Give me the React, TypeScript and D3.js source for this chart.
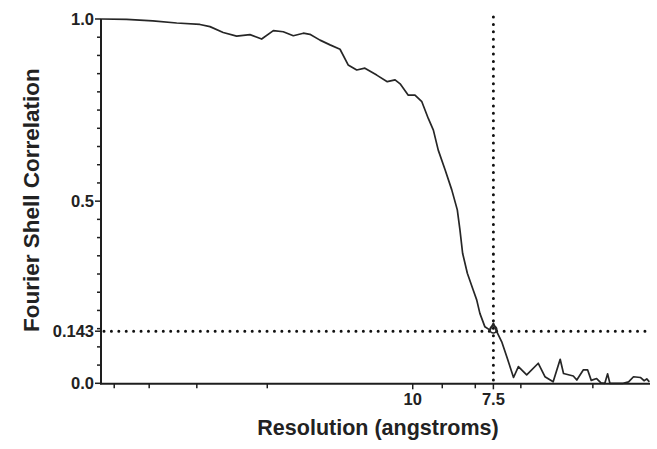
import { useEffect, useRef } from 'react';
import * as d3 from 'd3';

// FSC curve, resolution in angstroms vs correlation
const resolution = [
  30.41, 27.75, 25.27, 23.21, 21.36, 20.61, 19.66, 18.74, 17.87, 17.14,
  16.44, 15.87, 15.31, 14.77, 14.43, 13.92, 13.43, 12.96, 12.59, 12.21,
  11.86, 11.37, 10.95, 10.65, 10.46, 10.16, 9.92, 9.68, 9.46, 9.29,
  9.13, 8.91, 8.7, 8.53, 8.45, 8.37, 8.23, 8.06, 7.96, 7.87,
  7.73, 7.59, 7.5, 7.41, 7.28, 7.15, 6.98, 6.86, 6.66, 6.39,
  6.24, 6.06, 5.91, 5.84, 5.64, 5.57, 5.44, 5.36, 5.29, 5.19,
  5.11, 5.04, 4.99, 4.95, 4.72, 4.63, 4.55, 4.44, 4.38, 4.34, 4.3,
];
const fsc = [
  1.0, 0.999, 0.995, 0.989, 0.985, 0.979, 0.963, 0.953, 0.957, 0.945,
  0.968, 0.965, 0.954, 0.961, 0.958, 0.942, 0.929, 0.917, 0.874, 0.86,
  0.865, 0.846, 0.828, 0.833, 0.822, 0.791, 0.791, 0.773, 0.727, 0.695,
  0.64, 0.586, 0.531, 0.476, 0.421, 0.357, 0.302, 0.256, 0.229, 0.192,
  0.155, 0.146, 0.165, 0.142, 0.114, 0.073, 0.016, 0.046, 0.023, 0.055,
  0.018, 0.004, 0.066, 0.027, 0.02, 0.009, 0.037, 0.037, 0.008, 0.013,
  0.001, 0.0, 0.026, 0.0, 0.0, 0.004, 0.018, 0.016, 0.007, 0.012, 0.004,
];

const yLabelTicks = [0, 0.143, 0.5, 1.0];
const yLabelText = ['0.0', '0.143', '0.5', '1.0'];
const yMinorTicks = [0.05, 0.1, 0.15, 0.2, 0.25, 0.3, 0.35, 0.4, 0.45, 0.55, 0.6, 0.65, 0.7, 0.75, 0.8, 0.85, 0.9, 0.95];
const xLabelTicks = [10, 7.5];
const xLabelText = ['10', '7.5'];
const xMinorTicks = [29, 25.6, 21.6, 16.8, 9, 8, 6.8, 5.26];

const threshold = 0.143;
const cutoff = 7.5;

const W = 657;
const H = 449;
const font = '"Liberation Sans", Arial, Helvetica, sans-serif';

export default function App() {
  const ref = useRef<SVGSVGElement>(null);

  useEffect(() => {
    document.body.style.margin = '0';
  }, []);

  const x = d3.scaleLog().domain([30.4, 4.29]).range([101, 650]);
  const y = d3.scaleLinear().domain([0, 1]).range([383.3, 19]);

  const pts = resolution.map((r, i) => [r, fsc[i]] as [number, number]);
  const line = d3.line<[number, number]>()
    .x(d => x(d[0]))
    .y(d => y(d[1]));

  const axisColor = '#1e1e1e';

  return (
    <svg ref={ref} width={W} height={H} style={{ display: 'block', background: '#fff' }}>
      {/* dotted threshold lines */}
      <line x1={x.range()[0] + 3} x2={x.range()[1]} y1={y(threshold)} y2={y(threshold)}
        stroke="#111" strokeWidth={3} strokeLinecap="round" strokeDasharray="0.01 7.4" />
      <line x1={x(cutoff)} x2={x(cutoff)} y1={17} y2={y(0)}
        stroke="#111" strokeWidth={3} strokeLinecap="round" strokeDasharray="0.01 7.4" />

      {/* curve */}
      <path d={line(pts) || ''} fill="none" stroke="#262626" strokeWidth={1.7} strokeLinejoin="round" />
      <circle cx={x(cutoff)} cy={y(0.148)} r={3.5} fill="none" stroke="#262626" strokeWidth={1.5} />

      {/* y axis */}
      <line x1={101} x2={101} y1={y(1)} y2={y(0) + 1} stroke={axisColor} strokeWidth={2} />
      {yMinorTicks.map(t => (
        <line key={'ym' + t} x1={97} x2={101} y1={y(t)} y2={y(t)} stroke={axisColor} strokeWidth={1.5} />
      ))}
      {yLabelTicks.map((t, i) => (
        <g key={'yl' + t}>
          <line x1={95} x2={101} y1={y(t)} y2={y(t)} stroke={axisColor} strokeWidth={1.5} />
          <text x={94} y={y(t)} dy="0.36em" textAnchor="end" fontFamily={font} fontWeight="bold"
            fontSize={16.5} fill="#222">{yLabelText[i]}</text>
        </g>
      ))}

      {/* x axis */}
      <line x1={100} x2={650} y1={y(0) + 0.5} y2={y(0) + 0.5} stroke={axisColor} strokeWidth={2} />
      {xMinorTicks.map(t => (
        <line key={'xm' + t} x1={x(t)} x2={x(t)} y1={y(0)} y2={y(0) + 5} stroke={axisColor} strokeWidth={1.5} />
      ))}
      {xLabelTicks.map((t, i) => (
        <g key={'xl' + t}>
          <line x1={x(t)} x2={x(t)} y1={y(0)} y2={y(0) + 6} stroke={axisColor} strokeWidth={1.5} />
          <text x={x(t)} y={405} textAnchor="middle" fontFamily={font} fontWeight="bold"
            fontSize={16.5} fill="#222">{xLabelText[i]}</text>
        </g>
      ))}

      {/* axis titles */}
      <text x={378} y={435} textAnchor="middle" fontFamily={font} fontWeight="bold" fontSize={21.5} fill="#222">
        Resolution (angstroms)
      </text>
      <text transform={`translate(39, ${y(0.5) - 1}) rotate(-90)`} textAnchor="middle" fontFamily={font}
        fontWeight="bold" fontSize={22.5} fill="#222">
        Fourier Shell Correlation
      </text>
    </svg>
  );
}
